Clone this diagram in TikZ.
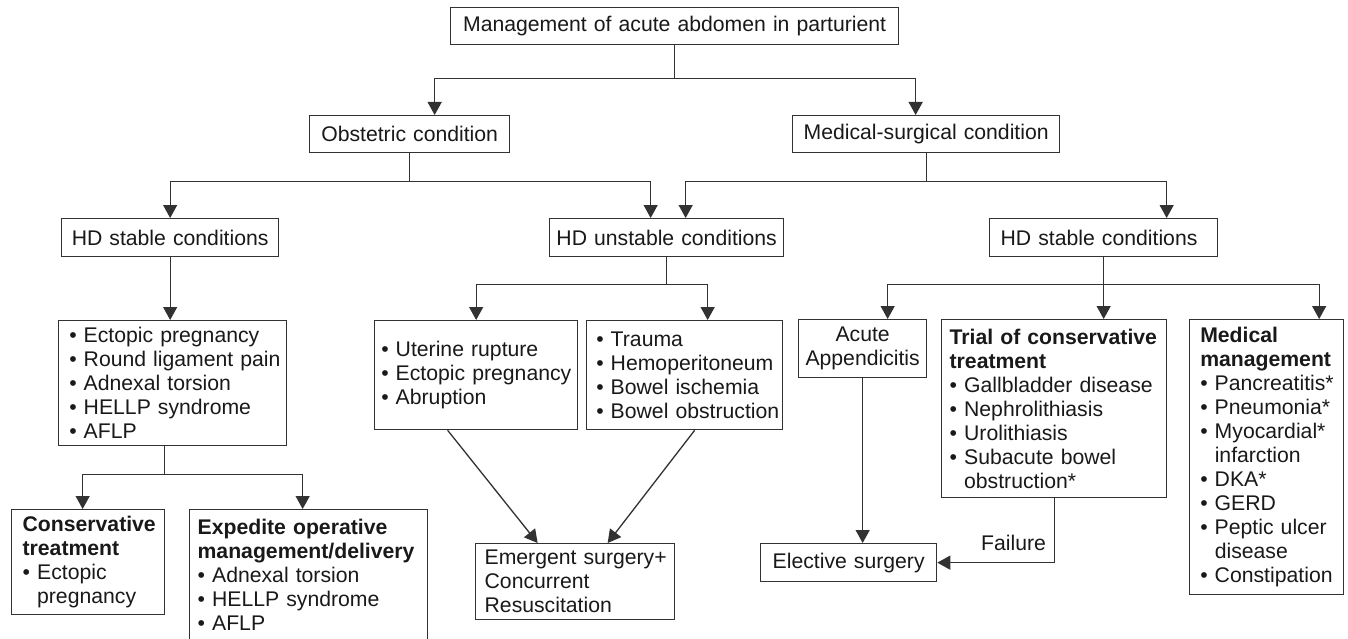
\documentclass[tikz,border=0pt]{standalone}
\usepackage{fontspec}
\setmainfont{Liberation Sans}
\usetikzlibrary{arrows.meta}
\definecolor{lc}{RGB}{50,50,50}
\definecolor{tc}{RGB}{25,25,25}
\newcommand{\fsz}{\fontsize{21.2}{24}\selectfont}
\newcommand{\bl}[1]{\mbox{•\ #1}}
\newcommand{\cl}[1]{\mbox{\hphantom{•\ }#1}}
\tikzset{
  box/.style={draw=lc, line width=1.3pt, text=tc, font=\fsz, inner ysep=0pt, anchor=north west, align=left},
  conn/.style={draw=lc, line width=1.3pt},
  arr/.style={conn, -{Triangle[length=13pt,width=14pt]}},
  lbl/.style={text=tc, font=\fsz, inner sep=0pt},
}
\begin{document}
\begin{tikzpicture}[x=1pt,y=-1pt]
\fill[white] (0,0) rectangle (1348,639);
\useasboundingbox (0,0) rectangle (1348,639);

% level 0-2
\node[box, align=center, text width=440pt, inner xsep=4pt, minimum height=37pt] (top) at (450,7) {Management of acute abdomen in parturient};
\node[box, align=center, text width=192pt, inner xsep=4pt, minimum height=37pt] (obs) at (309,115) {Obstetric condition};
\node[box, align=center, text width=259pt, inner xsep=4pt, minimum height=37pt] (med) at (792,115) {Medical-surgical condition};
\node[box, align=center, text width=209pt, inner xsep=4pt, minimum height=38pt] (hds1) at (61,218) {HD stable conditions};
\node[box, align=center, text width=226pt, inner xsep=4pt, minimum height=38pt] (hdu) at (549,218) {HD unstable conditions};
\node[box, text width=206pt, inner xsep=11pt, minimum height=38pt] (hds2) at (989,218) {HD stable conditions};

% lists
\node[box, text width=206.8pt, inner xsep=10.6pt, minimum height=125pt] (listA) at (58,320)
  {\bl{Ectopic pregnancy}\\\bl{Round ligament pain}\\\bl{Adnexal torsion}\\\bl{HELLP syndrome}\\\bl{AFLP}};
\node[box, text width=131pt, inner xsep=11pt, minimum height=105pt] (cons) at (11,509)
  {\mbox{\bfseries Conservative}\\\mbox{\bfseries treatment}\\\bl{Ectopic}\\\cl{pregnancy}};
\node[box, text width=222pt, inner xsep=8pt, minimum height=131pt] (exped) at (189,509)
  {\mbox{\bfseries Expedite operative}\\\mbox{\bfseries management/delivery}\\\bl{Adnexal torsion}\\\bl{HELLP syndrome}\\\bl{AFLP}};
\node[box, text width=189.8pt, inner xsep=6.6pt, minimum height=109pt] (listB) at (374,320)
  {\bl{Uterine rupture}\\\bl{Ectopic pregnancy}\\\bl{Abruption}};
\node[box, text width=176.8pt, inner xsep=9.6pt, minimum height=109pt] (listC) at (586,320)
  {\bl{Trauma}\\\bl{Hemoperitoneum}\\\bl{Bowel ischemia}\\\bl{Bowel obstruction}};
\node[box, text width=181pt, inner xsep=9pt, minimum height=76pt] (emerg) at (475,543)
  {\mbox{Emergent surgery+}\\\mbox{Concurrent}\\\mbox{Resuscitation}};
\node[box, align=center, text width=120pt, inner xsep=4pt, minimum height=58pt] (appx) at (798,319)
  {Acute\\Appendicitis};
\node[box, text width=209pt, inner xsep=8pt, minimum height=178pt] (trial) at (941,319)
  {\mbox{\bfseries Trial of conservative}\\\mbox{\bfseries treatment}\\\bl{Gallbladder disease}\\\bl{Nephrolithiasis}\\\bl{Urolithiasis}\\\bl{Subacute bowel}\\\cl{obstruction*}};
\node[box, text width=132.8pt, inner xsep=10.6pt, minimum height=275pt] (medm) at (1189,319)
  {\mbox{\bfseries Medical}\\\mbox{\bfseries management}\\\bl{Pancreatitis*}\\\bl{Pneumonia*}\\\bl{Myocardial*}\\\cl{infarction}\\\bl{DKA*}\\\bl{GERD}\\\bl{Peptic ulcer}\\\cl{disease}\\\bl{Constipation}};
\node[box, align=center, text width=168pt, inner xsep=4pt, minimum height=38pt] (elect) at (760,543)
  {Elective surgery};

% connectors
\draw[conn] (top.south) -- ++(0,33) coordinate (j1);
\draw[arr] (j1) -| ([xshift=25pt]obs.north);
\draw[arr] (j1) -| ([xshift=-10.5pt]med.north);

\draw[conn] (obs.south) -- ++(0,28) coordinate (j2);
\draw[arr] (j2) -| (hds1.north);
\draw[arr] (j2) -| ([xshift=-16pt]hdu.north);

\draw[conn] (med.south) -- ++(0,28) coordinate (j3);
\draw[arr] (j3) -| ([xshift=19pt]hdu.north);
\draw[arr] (j3) -| ([xshift=63pt]hds2.north);

\draw[arr] (hds1.south) -- (hds1.south |- listA.north);

\draw[conn] ([xshift=-8pt]listA.south) -- ++(0,28) coordinate (j4);
\draw[arr] (j4) -| ([xshift=-5.5pt]cons.north);
\draw[arr] (j4) -| ([xshift=-6pt]exped.north);

\draw[conn] (hdu.south) -- ++(0,27) coordinate (j5);
\draw[arr] (j5) -| (listB.north);
\draw[arr] (j5) -| ([xshift=23pt]listC.north);

\draw[conn] (hds2.south) -- ++(0,27) coordinate (j6);
\draw[arr] (j6) -| ([xshift=25pt]appx.north);
\draw[arr] (j6) -- (j6 |- trial.north);
\draw[arr] (j6) -| ([xshift=52.5pt]medm.north);

\draw[arr] ([xshift=-28.5pt]listB.south) -- ([xshift=-37.5pt]emerg.north);
\draw[arr] ([xshift=10pt]listC.south) -- ([xshift=32.5pt]emerg.north);

\draw[arr] (appx.south) -- (appx.south |- elect.north);
\draw[arr] (trial.south) |- (elect.east);
\node[lbl, anchor=base] (fail) at (1013.5,550) {Failure};
\end{tikzpicture}
\end{document}
